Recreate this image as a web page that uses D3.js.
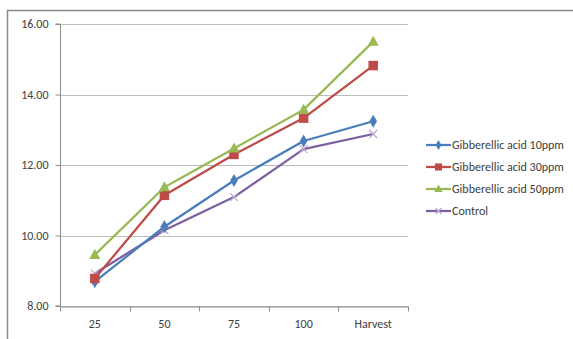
<!DOCTYPE html>
<html><head><meta charset="utf-8">
<script src="https://cdn.jsdelivr.net/npm/d3@7"></script>
<style>body{margin:0;background:#fff}svg{display:block}</style>
</head><body>
<script>
const categories = ["25","50","75","100","Harvest"];
const seriesNames = ["Gibberellic acid 10ppm","Gibberellic acid 30ppm","Gibberellic acid 50ppm","Control"];
const ga10 = [8.69, 10.25, 11.56, 12.68, 13.24];
const ga30 = [8.78, 11.14, 12.30, 13.33, 14.82];
const ga50 = [9.45, 11.37, 12.47, 13.57, 15.50];
const control = [8.92, 10.15, 11.09, 12.45, 12.88];
const yTicks = [8, 10, 12, 14, 16];
const colors = ["#4A7EBB","#BE4B48","#98B954","#7D5FA0"];
const symbols = ["diamond","square","triangle","cross"];

const W = 573, H = 339;
const FONT = "Carlito, Calibri, Lato, 'Liberation Sans', Arial, sans-serif";
const svg = d3.select("body").append("svg").attr("width", W).attr("height", H);
svg.append("rect").attr("width", W).attr("height", H).attr("fill", "#fff");
// outer chart border (top & left visible)
svg.append("line").attr("x1",7).attr("x2",W).attr("y1",10.5).attr("y2",10.5).attr("stroke","#8a8a8a").attr("stroke-width",1.5);
svg.append("line").attr("x1",7.5).attr("x2",7.5).attr("y1",10).attr("y2",H).attr("stroke","#8a8a8a").attr("stroke-width",1.5);

const x = d3.scaleBand().domain(categories).range([60, 408]);
const y = d3.scaleLinear().domain([8, 16]).range([306, 24]);

// gridlines
svg.append("g").selectAll("line").data(yTicks).join("line")
  .attr("x1", 60).attr("x2", 408)
  .attr("y1", d => Math.round(y(d)) + 0.5).attr("y2", d => Math.round(y(d)) + 0.5)
  .attr("stroke", "#bdbdbd").attr("stroke-width", 1);

// y axis
const yAxis = svg.append("g").attr("transform", "translate(60.5,0)")
  .call(d3.axisLeft(y).tickValues(yTicks).tickFormat(d3.format(".2f")).tickSize(5).tickPadding(7));
yAxis.select(".domain").attr("stroke", "#8c8c8c").attr("d", `M-5,${y(16)}H0V${y(8)}H-5`);
yAxis.selectAll(".tick line").attr("stroke", "#8c8c8c");
yAxis.selectAll("text").attr("font-family", FONT).attr("font-size", 12).attr("fill", "#404040");

// x axis
const xAxis = svg.append("g").attr("transform", `translate(0,${Math.round(y(8))+0.5})`)
  .call(d3.axisBottom(x).tickSize(0).tickPadding(13));
xAxis.select(".domain").attr("stroke", "#8c8c8c");
xAxis.selectAll("text").attr("font-family", FONT).attr("font-size", 12).attr("fill", "#404040");
// boundary tick marks
const bounds = categories.map(c => x(c)).concat([x.range()[1]]);
xAxis.selectAll(".bt").data(bounds).join("line").attr("class","bt")
  .attr("x1", d => Math.round(d)+0.5).attr("x2", d => Math.round(d)+0.5).attr("y1", 0).attr("y2", 5)
  .attr("stroke", "#8c8c8c");

const allSeries = [ga10, ga30, ga50, control];
const cx = c => x(c) + x.bandwidth() / 2;
const line = d3.line().x((d, i) => cx(categories[i])).y(d => y(d));

function drawMarker(g, type, color, px, py, k) {
  k = k || 1;
  if (type === "diamond") {
    g.append("path").attr("d", d3.symbol(d3.symbolDiamond, 50 * k * k)()).attr("transform", `translate(${px},${py})`).attr("fill", color);
  } else if (type === "square") {
    const s = 9.5 * k;
    g.append("rect").attr("x", px - s/2).attr("y", py - s/2).attr("width", s).attr("height", s).attr("fill", color);
  } else if (type === "triangle") {
    g.append("path").attr("d", `M${px},${py-6*k}L${px+5.5*k},${py+4*k}L${px-5.5*k},${py+4*k}Z`).attr("fill", color);
  } else {
    const r = 4 * k;
    g.append("path").attr("d", `M${px-r},${py-r}L${px+r},${py+r}M${px-r},${py+r}L${px+r},${py-r}`)
      .attr("stroke", "#b9a7cf").attr("stroke-width", 1.2).attr("fill", "none");
  }
}

// draw control first (behind), then others
const order = [3, 0, 1, 2];
order.forEach(si => {
  const g = svg.append("g");
  g.append("path").datum(allSeries[si]).attr("d", line).attr("fill", "none")
    .attr("stroke", colors[si]).attr("stroke-width", 2.25).attr("stroke-linejoin", "round");
  allSeries[si].forEach((v, i) => drawMarker(g, symbols[si], colors[si], cx(categories[i]), y(v)));
});

// legend
const legY = [145, 167, 189, 211];
seriesNames.forEach((name, i) => {
  const g = svg.append("g");
  g.append("line").attr("x1", 426).attr("x2", 451).attr("y1", legY[i]).attr("y2", legY[i])
    .attr("stroke", colors[i]).attr("stroke-width", 2.25);
  drawMarker(g, symbols[i], colors[i], 438.5, legY[i], 0.75);
  g.append("text").attr("x", 452).attr("y", legY[i] + 4).text(name)
    .attr("font-family", FONT).attr("font-size", 12).attr("fill", "#404040");
});
</script>
</body></html>
